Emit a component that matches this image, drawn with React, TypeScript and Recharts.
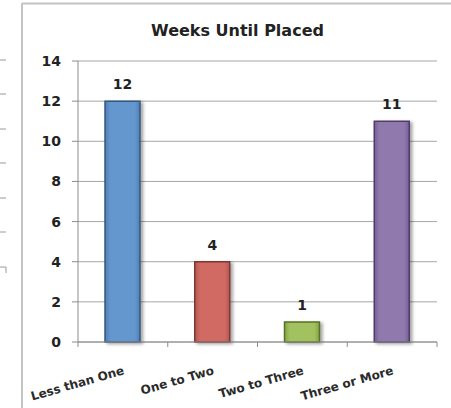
import { Bar, BarChart, CartesianGrid, Cell, LabelList, XAxis, YAxis } from 'recharts'

const categories = ['Less than One', 'One to Two', 'Two to Three', 'Three or More']
const weeks = [12, 4, 1, 11]
const yTicks = [0, 2, 4, 6, 8, 10, 12, 14]
// [edge, middle] for each bar
const barColors: [string, string][] = [
  ['#4f7fb5', '#6597cf'],
  ['#b3564f', '#d06b64'],
  ['#84a342', '#a2c25f'],
  ['#765e99', '#9079ad'],
]
const barStrokes = ['#34587f', '#7f3631', '#5a7028', '#4f3d68']

const W = 451
const H = 408
const M = { top: 61, right: 14, bottom: 26, left: 0 }
const Y_AXIS_W = 78
const HALF_BAND = (W - M.left - M.right - Y_AXIS_W) / categories.length / 2

const data = categories.map((name, i) => ({ name, weeks: weeks[i] }))

const FONT = '"DejaVu Sans", Verdana, sans-serif'

function CategoryTick(props: any) {
  const { x, y, payload, index } = props
  const last = index === categories.length - 1
  const tx = x + 2
  const ty = y + 24
  return (
    <g>
      <line x1={x - HALF_BAND} y1={y - 8} x2={x - HALF_BAND} y2={y - 3} stroke="#8c8c8c" />
      {last && <line x1={x + HALF_BAND} y1={y - 8} x2={x + HALF_BAND} y2={y - 3} stroke="#8c8c8c" />}
      <text
        x={tx}
        y={ty}
        textAnchor="end"
        transform={`rotate(-16, ${tx}, ${ty})`}
        fontFamily={FONT}
        fontSize={12}
        fontWeight="bold"
        fill="#2a2a2a"
      >
        {payload.value}
      </text>
    </g>
  )
}

export default function App() {
  return (
    <div style={{ position: 'relative', width: W, height: H, background: '#fff', overflow: 'hidden' }}>
      <style>{'body{margin:0}'}</style>
      {/* neighbouring chart edge and frame */}
      <svg width={W} height={H} style={{ position: 'absolute', left: 0, top: 0 }}>
        {[60, 94, 129, 163, 198, 232, 267].map((ty) => (
          <line key={ty} x1={0} y1={ty} x2={6} y2={ty} stroke="#9a9a9a" />
        ))}
        <line x1={6} y1={267} x2={6} y2={273} stroke="#9a9a9a" />
        <line x1={22} y1={3} x2={22} y2={H} stroke="#c4c4c4" strokeWidth={2} />
        <line x1={22} y1={3.5} x2={W} y2={3.5} stroke="#c4c4c4" strokeWidth={2} />
      </svg>
      <div
        style={{
          position: 'absolute',
          left: 0,
          width: W + 24,
          top: 21,
          textAlign: 'center',
          fontFamily: FONT,
          fontWeight: 'bold',
          fontSize: 16,
          color: '#222',
        }}
      >
        Weeks Until Placed
      </div>
      <div style={{ position: 'absolute', left: 0, top: 0 }}>
        <BarChart width={W} height={H} data={data} margin={M}>
          <defs>
            {barColors.map(([edge, mid], i) => (
              <linearGradient key={i} id={`bar${i}`} x1="0" y1="0" x2="1" y2="0">
                <stop offset="0%" stopColor={edge} />
                <stop offset="15%" stopColor={mid} />
                <stop offset="85%" stopColor={mid} />
                <stop offset="100%" stopColor={edge} />
              </linearGradient>
            ))}
            <filter id="barShadow" x="-20%" y="-10%" width="150%" height="130%">
              <feDropShadow dx="2.5" dy="1.5" stdDeviation="1.5" floodColor="#000" floodOpacity="0.35" />
            </filter>
          </defs>
          <CartesianGrid vertical={false} stroke="#a6a6a6" />
          <YAxis
            width={Y_AXIS_W}
            domain={[0, 14]}
            ticks={yTicks}
            tickSize={6}
            tickMargin={11}
            stroke="#8c8c8c"
            tick={{ fill: '#222', fontSize: 14, fontWeight: 'bold', fontFamily: FONT }}
          />
          <XAxis
            dataKey="name"
            height={40}
            stroke="#8c8c8c"
            tickLine={false}
            interval={0}
            tick={<CategoryTick />}
          />
          <Bar dataKey="weeks" barSize={35} isAnimationActive={false}>
            {data.map((_, i) => (
              <Cell
                key={i}
                fill={`url(#bar${i})`}
                stroke={barStrokes[i]}
                strokeWidth={1.5}
                filter="url(#barShadow)"
              />
            ))}
            <LabelList
              dataKey="weeks"
              position="top"
              offset={12}
              fill="#222"
              fontSize={14}
              fontWeight="bold"
              fontFamily={FONT}
            />
          </Bar>
        </BarChart>
      </div>
    </div>
  )
}
